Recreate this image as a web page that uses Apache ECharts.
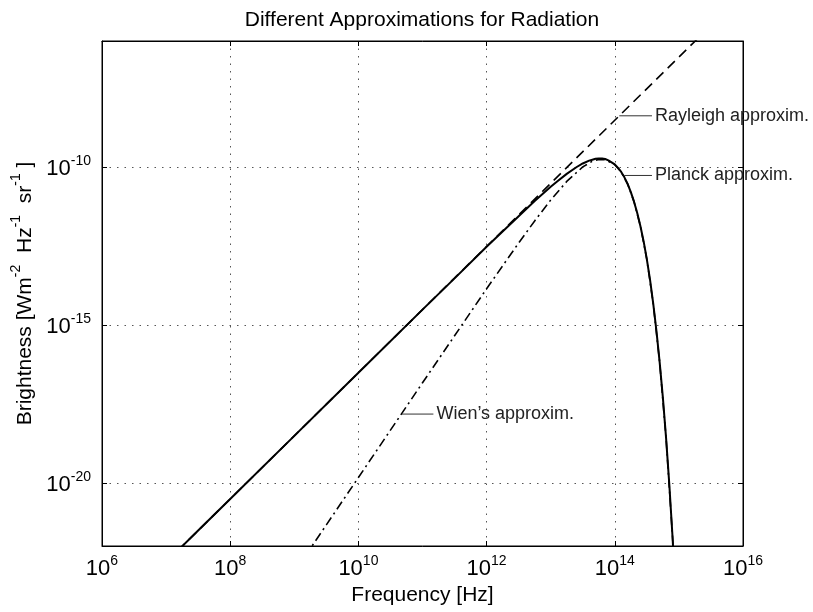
<!DOCTYPE html>
<html><head><meta charset="utf-8">
<script src="https://cdn.jsdelivr.net/npm/echarts@6/dist/echarts.min.js"></script>
<style>html,body{margin:0;padding:0;background:#fff}#c{width:813px;height:612px}</style>
</head><body><div id="c"></div>
<script>
// ---- data (log10 values) ----
const xTickExps = [6, 8, 10, 12, 14, 16];       // frequency exponents (Hz)
const yTickExps = [-20, -15, -10];              // brightness exponents

const planckLogNu = [7.0, 7.5, 8.0, 9.0, 10.0, 11.0, 11.5, 12.0, 12.5, 12.75, 13.0, 13.1, 13.25, 13.4, 13.5, 13.6, 13.65, 13.7, 13.75, 13.8, 13.85, 13.9, 14.0, 14.05, 14.1, 14.15, 14.2, 14.25, 14.3, 14.35, 14.4, 14.45, 14.5, 14.55, 14.6, 14.65, 14.7, 14.75, 14.8, 14.85, 14.9, 14.95];
const planckLogB  = [-22.51, -21.51, -20.51, -18.51, -16.51, -14.51, -13.52, -12.52, -11.55, -11.07, -10.62, -10.45, -10.21, -10.00, -9.88, -9.79, -9.76, -9.73, -9.72, -9.72, -9.74, -9.78, -9.91, -10.02, -10.15, -10.32, -10.53, -10.79, -11.09, -11.45, -11.87, -12.35, -12.92, -13.57, -14.33, -15.19, -16.18, -17.30, -18.58, -20.04, -21.69, -23.55];

const rayleighLogNu = [7.0, 9.0, 11.0, 13.0, 15.0, 16.0];
const rayleighLogB  = [-22.51, -18.51, -14.51, -10.51, -6.51, -4.51];

const wienLogNu = [9.0, 9.5, 10.0, 10.5, 11.0, 11.5, 12.0, 12.5, 12.75, 13.0, 13.25, 13.5, 13.65, 13.75, 13.85, 14.0, 14.1, 14.2, 14.3, 14.4, 14.5, 14.6, 14.7, 14.8, 14.9, 14.95];
const wienLogB  = [-22.83, -21.33, -19.83, -18.33, -16.83, -15.34, -13.85, -12.40, -11.70, -11.04, -10.45, -9.99, -9.81, -9.75, -9.76, -9.92, -10.15, -10.53, -11.09, -11.87, -12.92, -14.33, -16.18, -18.58, -21.69, -23.55];

// annotations: text, leader line start and end (data coords)
const annoText  = ['Rayleigh approxim.', 'Planck approxim.', 'Wien\u2019s approxim.'];
const annoStart = [[14.07, -8.37], [14.15, -10.26], [10.68, -17.82]];
const annoEnd   = [[14.58, -8.37], [14.58, -10.26], [11.17, -17.82]];

// ---- chart ----
const FONT = '"Liberation Sans", Arial, Helvetica, sans-serif';
const zip = (a, b) => a.map((v, i) => [v, b[i]]);
const supRich = {
  b: { fontSize: 22, lineHeight: 26, verticalAlign: 'bottom', color: '#000', fontFamily: FONT },
  s: { fontSize: 14, lineHeight: 14, verticalAlign: 'top', color: '#000', fontFamily: FONT }
};
const pow10 = v => '{b|10}{s|' + v + '}';

const chart = echarts.init(document.getElementById('c'), null, { renderer: 'canvas' });

const annoSeries = annoText.map((t, i) => ({
  type: 'line',
  data: [annoStart[i], annoEnd[i]],
  symbol: 'none',
  silent: true,
  lineStyle: { color: '#333', width: 1 },
  endLabel: {
    show: true,
    formatter: () => t,
    color: '#222',
    fontSize: 18,
    fontFamily: FONT,
    distance: 3
  },
  z: 3
}));

chart.setOption({
  animation: false,
  backgroundColor: '#fff',
  title: {
    text: 'Different Approximations for Radiation',
    left: 422, textAlign: 'center', top: 10, padding: 0,
    textStyle: { fontSize: 21, fontWeight: 'normal', color: '#000', fontFamily: FONT }
  },
  grid: { left: 102, right: 70, top: 41, bottom: 66, show: true, borderColor: '#000', borderWidth: 1, backgroundColor: 'transparent' },
  xAxis: [{
    type: 'value', min: 6, max: 16, interval: 2,
    name: 'Frequency [Hz]', nameLocation: 'middle', nameGap: 37,
    nameTextStyle: { fontSize: 21, color: '#000', fontFamily: FONT },
    axisLine: { show: true, onZero: false, lineStyle: { color: '#000', width: 1 } },
    axisTick: { show: true, inside: true, length: 5, lineStyle: { color: '#000' }, customValues: xTickExps },
    axisLabel: { margin: 8, formatter: pow10, rich: supRich, customValues: xTickExps },
    splitLine: { show: true, lineStyle: { color: '#555', width: 1, type: [1.5, 6] } }
  }, {
    type: 'value', min: 6, max: 16, interval: 2, position: 'top',
    axisLine: { show: true, onZero: false, lineStyle: { color: '#000', width: 1 } },
    axisTick: { show: true, inside: true, length: 5, lineStyle: { color: '#000' }, customValues: xTickExps },
    axisLabel: { show: false }, splitLine: { show: false }
  }],
  yAxis: [{
    type: 'value', min: -22, max: -6,
    name: '{m|Brightness [Wm}{s|-2}{m|  Hz}{s|-1}{m|  sr}{s|-1}{m| ]}',
    nameLocation: 'middle', nameGap: 64,
    nameTextStyle: { rich: {
      m: { fontSize: 21, lineHeight: 26, verticalAlign: 'bottom', color: '#000', fontFamily: FONT },
      s: { fontSize: 14, lineHeight: 14, verticalAlign: 'top', color: '#000', fontFamily: FONT }
    } },
    axisLine: { show: true, onZero: false, lineStyle: { color: '#000', width: 1 } },
    axisTick: { show: true, inside: true, length: 5, lineStyle: { color: '#000' }, customValues: yTickExps },
    axisLabel: { margin: 11, formatter: pow10, rich: supRich, customValues: yTickExps },
    splitLine: { show: true, lineStyle: { color: '#555', width: 1, type: [1.5, 6] } }
  }, {
    type: 'value', min: -22, max: -6, position: 'right',
    axisLine: { show: true, onZero: false, lineStyle: { color: '#000', width: 1 } },
    axisTick: { show: true, inside: true, length: 5, lineStyle: { color: '#000' }, customValues: yTickExps },
    axisLabel: { show: false }, splitLine: { show: false }
  }],
  series: [
    {
      name: 'Rayleigh', type: 'line', data: zip(rayleighLogNu, rayleighLogB),
      symbol: 'none', silent: true, clip: true,
      lineStyle: { color: '#000', width: 1.6, type: [10, 6] }, z: 2
    },
    {
      name: 'Wien', type: 'line', data: zip(wienLogNu, wienLogB),
      symbol: 'none', silent: true, clip: true,
      lineStyle: { color: '#000', width: 1.6, type: [9, 4, 2, 4] }, z: 2
    },
    {
      name: 'Planck', type: 'line', data: zip(planckLogNu, planckLogB),
      symbol: 'none', silent: true, clip: true,
      lineStyle: { color: '#000', width: 2 }, z: 4
    }
  ].concat(annoSeries)
});
</script>
</body></html>
